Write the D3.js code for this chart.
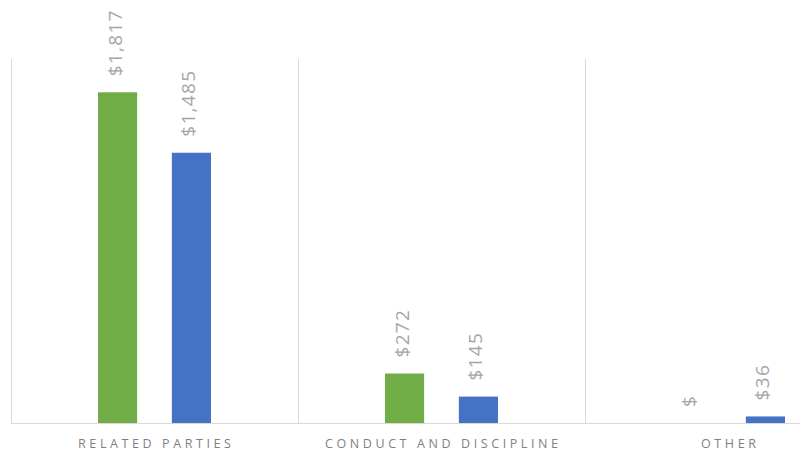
<!DOCTYPE html>
<html lang="en">
    <head>
        <meta charset="utf-8">
        <title>Bar chart</title>
        <script type="text/javascript" src="https://cdn.jsdelivr.net/npm/d3@7/dist/d3.min.js"></script>
        <style>
            body { margin: 0; background: #fff; }
            svg { display: block; font-family: "Open Sans", sans-serif; }
        </style>
    </head>

    <body>
        <script type="text/javascript">

            // data
            var categories = ["RELATED PARTIES", "CONDUCT AND DISCIPLINE", "OTHER"];
            var seriesNames = ["Series A", "Series B"];
            var seriesA = [1817, 272, 0];
            var seriesB = [1485, 145, 36];
            var colors = ["#70AD47", "#4472C4"];

            var w = 805, h = 451;
            // plot runs past the right edge (the reference is cropped)
            var plotLeft = 11, plotRight = 872, plotTop = 59, plotBottom = 423;
            var catSpacing = 3.6;

            var svg = d3.select("body").append("svg").attr("width", w).attr("height", h);

            var x0 = d3.scaleBand().domain(categories).range([plotLeft, plotRight]).paddingInner(0).paddingOuter(0);
            var x1 = d3.scaleBand().domain(seriesNames).range([-56.5, 56.5]).paddingInner(0.47).paddingOuter(0);
            var y = d3.scaleLinear().domain([0, 2000]).range([plotBottom, plotTop]);

            // vertical category separators
            svg.selectAll("line.grid")
                .data(categories)
                .enter()
                .append("line")
                .attr("class", "grid")
                .attr("x1", function(d) {return x0(d) + 0.5})
                .attr("x2", function(d) {return x0(d) + 0.5})
                .attr("y1", plotTop)
                .attr("y2", plotBottom)
                .attr("stroke", "#d9d9d9")
                .attr("stroke-width", 1);

            // baseline
            svg.append("line")
                .attr("x1", plotLeft)
                .attr("x2", 800)
                .attr("y1", plotBottom + 0.5)
                .attr("y2", plotBottom + 0.5)
                .attr("stroke", "#d9d9d9")
                .attr("stroke-width", 1);

            var rows = [];
            categories.forEach(function(c, i) {
                rows.push({cat: c, s: seriesNames[0], v: seriesA[i], color: colors[0]});
                rows.push({cat: c, s: seriesNames[1], v: seriesB[i], color: colors[1]});
            });

            function cx(d) {return x0(d.cat) + x0.bandwidth() / 2 + x1(d.s)}

            svg.selectAll("rect.bar")
                .data(rows)
                .enter()
                .append("rect")
                .attr("class", "bar")
                .attr("x", cx)
                .attr("y", function(d) {return y(d.v)})
                .attr("width", x1.bandwidth())
                .attr("height", function(d) {return y(0) - y(d.v)})
                .attr("fill", function(d) {return d.color});

            // rotated value labels
            var fmt = d3.format(",");
            svg.selectAll("text.val")
                .data(rows)
                .enter()
                .append("text")
                .attr("class", "val")
                .attr("transform", function(d) {
                    return "translate(" + (cx(d) + x1.bandwidth() / 2 - 3) + "," + (y(d.v) - 16) + ") rotate(-90)";
                })
                .attr("dominant-baseline", "central")
                .attr("font-size", "19px")
                .attr("letter-spacing", "1.3px")
                .attr("fill", "#a6a6a6")
                .text(function(d) {return d.v === 0 ? "$" : "$" + fmt(d.v)});

            // category labels (letter-spacing adds a trailing gap, so nudge right)
            svg.selectAll("text.cat")
                .data(categories)
                .enter()
                .append("text")
                .attr("class", "cat")
                .attr("x", function(d) {return x0(d) + x0.bandwidth() / 2 + catSpacing / 2})
                .attr("y", 448)
                .attr("text-anchor", "middle")
                .attr("font-size", "12.5px")
                .attr("letter-spacing", catSpacing + "px")
                .attr("fill", "#7f7f7f")
                .text(function(d) {return d});

        </script>
    </body>
</html>
